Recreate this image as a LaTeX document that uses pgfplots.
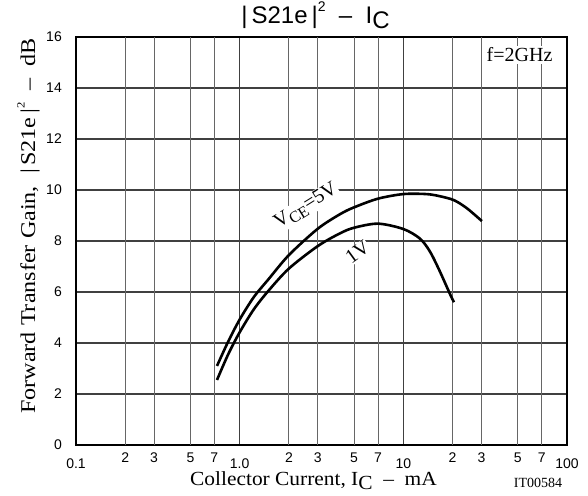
\documentclass[border=0pt]{standalone}
\usepackage{fontspec}
\setmainfont{Liberation Serif}
\newfontfamily\sansf{Liberation Sans}
\newfontfamily\ylabf[FakeStretch=1.15]{Liberation Serif}
\newfontfamily\xlabf[FakeStretch=1.07]{Liberation Serif}
\usepackage{pgfplots}
\pgfplotsset{compat=1.18}
\begin{document}
\begin{tikzpicture}[x=1pt,y=1pt]
\path[use as bounding box] (0,0) rectangle (588,495);
\begin{axis}[
  at={(76pt,50pt)}, anchor=south west,
  scale only axis, width=491pt, height=408pt,
  xmode=log, xmin=0.1, xmax=100, ymin=0, ymax=16,
  xtick={0.1,1,10,100}, xticklabels={0.1,1.0,10,100},
  extra x ticks={0.2,0.3,0.5,0.7,2,3,5,7,20,30,50,70},
  extra x tick labels={2,3,5,7,2,3,5,7,2,3,5,7},
  ytick={0,2,...,16},
  minor xtick={},
  major tick length=0pt, minor tick length=0pt,
  grid=major,
  major grid style={black!75, line width=1.1pt},
  extra x tick style={grid=major, major grid style={black!60, line width=0.9pt}, xticklabel style={yshift=6pt}},
  axis line style={line width=1.4pt},
  ticklabel style={font=\sansf\fontsize{14}{14}\selectfont},
  xticklabel style={anchor=north, inner sep=0pt, yshift=-14pt},
  yticklabel style={anchor=east, inner sep=0pt, xshift=-14pt},
  /pgf/number format/assume math mode=true,
]
\node[fill=white, inner sep=1pt, rotate=32, font=\fontsize{20}{20}\selectfont] at (axis cs:2.55,9.35) {V\raisebox{-0.22em}{\fontsize{16}{16}\selectfont CE}=5V};
\node[fill=white, inner sep=1pt, rotate=36, font=\fontsize{20}{20}\selectfont] at (axis cs:5.24,7.55) {1V};
\node[fill=white, inner sep=2pt, anchor=base, font=\fontsize{20}{20}\selectfont] at (axis cs:51.3,15.03) {f=2GHz};
\addplot[black, line width=2.6pt, smooth, tension=0.5] coordinates {
(0.727,3.10) (0.85,4.05) (1.0,4.92) (1.22,5.8) (1.5,6.5) (2,7.45) (3,8.48) (4.1,9.05) (5,9.32) (7,9.66) (10,9.84) (13.8,9.84) (16.6,9.76) (20.4,9.6) (24.5,9.28) (30.2,8.78)};
\addplot[black, line width=2.6pt, smooth, tension=0.5] coordinates {
(0.727,2.55) (0.85,3.55) (1.0,4.42) (1.22,5.32) (1.5,6.05) (2,6.92) (3,7.8) (4.1,8.3) (5,8.52) (7,8.68) (10,8.47) (12.6,8.1) (14.5,7.6) (16.6,6.85) (19.5,5.85) (20.4,5.6)};
\end{axis}
\node[anchor=base, font=\sansf\fontsize{24}{24}\selectfont] at (315.5,471) {|\,S21e\,|\raisebox{0.5em}{\fontsize{14}{14}\selectfont 2}\ \ –\ \ I\raisebox{-0.2em}{C}};
\node[anchor=base, rotate=90, font=\ylabf\fontsize{21}{21}\selectfont] at (35,269) {Forward Transfer Gain,\ \ |\,S21e\,|\raisebox{0.5em}{\fontsize{11}{11}\selectfont 2}\ \ –\ \ dB};
\node[anchor=base, font=\xlabf\fontsize{20}{20}\selectfont] at (313.5,10) {Collector Current, I\raisebox{-0.22em}{C}\ \ –\ \ mA};
\node[anchor=base, font=\fontsize{14}{14}\selectfont] at (538,7.7) {IT00584};
\end{tikzpicture}
\end{document}
